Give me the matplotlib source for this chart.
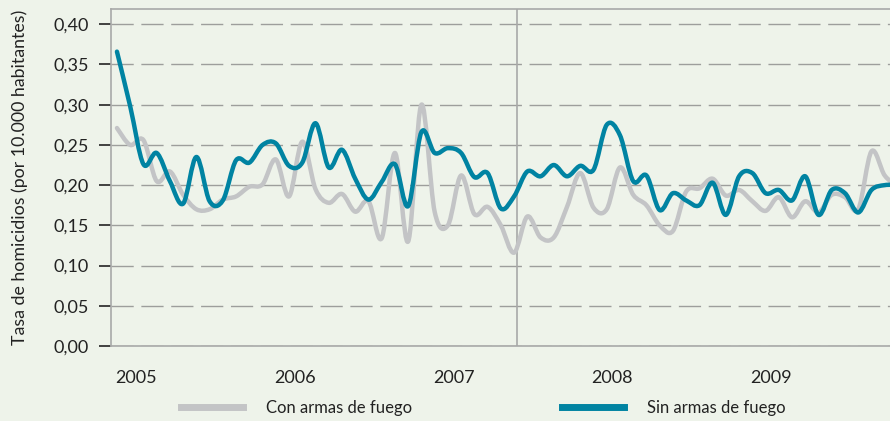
import numpy as np
import matplotlib.pyplot as plt
from matplotlib.path import Path
from matplotlib.patches import PathPatch
from matplotlib.lines import Line2D

plt.rcParams['font.family'] = ['Lato', 'DejaVu Sans']

# tasa mensual, ene 2005 - dic 2009
months = np.arange(60)
con_armas = [0.271, 0.250, 0.256, 0.205, 0.217, 0.188, 0.170, 0.170, 0.182, 0.186,
             0.198, 0.201, 0.232, 0.186, 0.254, 0.195, 0.178, 0.189, 0.167, 0.180,
             0.134, 0.240, 0.130, 0.300, 0.167, 0.150, 0.212, 0.164, 0.173, 0.150,
             0.116, 0.161, 0.135, 0.135, 0.173, 0.215, 0.172, 0.170, 0.222, 0.188,
             0.175, 0.150, 0.143, 0.192, 0.196, 0.208, 0.187, 0.194, 0.180, 0.168,
             0.185, 0.160, 0.180, 0.166, 0.188, 0.185, 0.170, 0.242, 0.212, 0.198]
sin_armas = [0.366, 0.298, 0.226, 0.240, 0.205, 0.177, 0.235, 0.180, 0.181, 0.231,
             0.228, 0.250, 0.252, 0.224, 0.228, 0.277, 0.222, 0.244, 0.208, 0.182,
             0.204, 0.226, 0.174, 0.266, 0.240, 0.246, 0.240, 0.210, 0.215, 0.171,
             0.186, 0.217, 0.211, 0.225, 0.211, 0.224, 0.219, 0.275, 0.262, 0.205,
             0.212, 0.169, 0.190, 0.181, 0.175, 0.203, 0.163, 0.211, 0.215, 0.190,
             0.194, 0.181, 0.211, 0.163, 0.194, 0.190, 0.166, 0.194, 0.200, 0.200]

years = ["2005", "2006", "2007", "2008", "2009"]
year_pos = [1.45, 13.45, 25.45, 37.4, 49.4]
corte = 30.2
yticks = np.arange(0, 0.41, 0.05)

BG = '#eef3ea'
GRAY = '#c3c4c6'
BLUE = '#0083a2'


def smooth_path(x, y):
    # catmull-rom as cubic bezier segments, like the "smoothed line" look
    pts = np.column_stack([x, y]).astype(float)
    p = np.vstack([pts[0], pts, pts[-1]])
    verts = [pts[0]]
    codes = [Path.MOVETO]
    for i in range(1, len(p) - 2):
        c1 = p[i] + (p[i + 1] - p[i - 1]) / 6
        c2 = p[i + 1] - (p[i + 2] - p[i]) / 6
        verts += [c1, c2, p[i + 1]]
        codes += [Path.CURVE4] * 3
    return Path(verts, codes)


fig = plt.figure(figsize=(8.9, 4.21), dpi=100, facecolor=BG)
ax = fig.add_axes([111 / 890, 75 / 421, 1 - 111 / 890, 337 / 421])
ax.set_facecolor(BG)

for data, col in [(con_armas, GRAY), (sin_armas, BLUE)]:
    ax.add_patch(PathPatch(smooth_path(months, data), facecolor='none', edgecolor=col,
                           lw=3.2, capstyle='round', joinstyle='round', zorder=3))

ax.axvline(corte, color='#a8a9a8', lw=1.2, zorder=2)

ax.set_xlim(-0.45, 58.4)
ax.set_ylim(0, 0.419)

ax.set_yticks(yticks)
ax.set_yticklabels([f"{v:.2f}".replace('.', ',') for v in yticks])
ax.yaxis.grid(True, color='#9d9e9c', lw=1.0, linestyle=(0, (16, 5.5)))
ax.set_axisbelow(True)

ax.set_xticks(year_pos)
ax.set_xticklabels(years)
ax.tick_params(axis='x', length=0, pad=17, labelsize=13, labelcolor='#222222')
ax.tick_params(axis='y', length=9, width=1.3, color='#333333', pad=7,
               labelsize=13, labelcolor='#222222')

for side in ['left', 'top', 'bottom']:
    ax.spines[side].set_color('#a8a9a8')
    ax.spines[side].set_linewidth(1.2)
ax.spines['right'].set_visible(False)

ax.set_ylabel("Tasa de homicidios (por 10.000 habitantes)", fontsize=12.8,
              color='#222222', labelpad=18)

handles = [Line2D([], [], color=GRAY, lw=5), Line2D([], [], color=BLUE, lw=5)]
fig.legend(handles, ["Con armas de fuego", "Sin armas de fuego"], ncol=2,
           loc='center', bbox_to_anchor=(0.543, 0.031), frameon=False,
           fontsize=12, handlelength=3.7, handletextpad=1.4, columnspacing=9.0,
           labelcolor='#222222')

fig.savefig('out.png', dpi=100, facecolor=BG)
